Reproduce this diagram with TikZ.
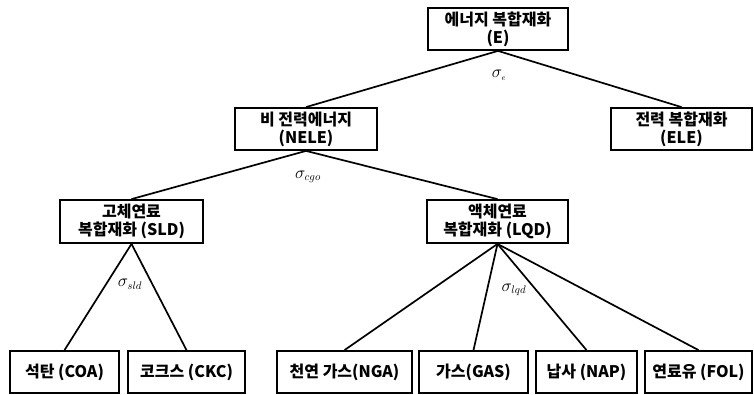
\documentclass[tikz,border=0pt]{standalone}
\usepackage{fontspec}
\setmainfont{Noto Sans CJK KR}
\begin{document}
\begin{tikzpicture}[x=1pt,y=-1pt,
  box/.style={draw=black,line width=1.8pt,fill=white,align=center,inner sep=0pt,
    font=\fontsize{16}{18}\selectfont\bfseries,minimum height=42pt},
  conn/.style={line width=1.7pt,black},
  sig/.style={font=\fontsize{16}{18}\selectfont,inner sep=0pt}]
\useasboundingbox (0,0) rectangle (754,394);
\node[box,minimum width=140pt] (E) at (498,29) {에너지 복합재화\\(E)};
\node[box,minimum width=141pt] (ELE) at (681.5,129) {전력 복합재화\\(ELE)};
\node[box,minimum width=142pt] (NELE) at (306,129) {비 전력에너지\\(NELE)};
\node[box,minimum width=143pt,minimum height=43pt] (SLD) at (131.5,221.5) {고체연료\\복합재화 (SLD)};
\node[box,minimum width=141pt,minimum height=43pt] (LQD) at (497.5,221.5) {액체연료\\복합재화 (LQD)};
\node[box,minimum width=109pt] (COA) at (64.5,372) {석탄 (COA)};
\node[box,minimum width=117pt] (CKC) at (186.5,372) {코크스 (CKC)};
\node[box,minimum width=135pt] (NGA) at (344.5,372) {천연 가스(NGA)};
\node[box,minimum width=109pt] (GAS) at (473.5,372) {가스(GAS)};
\node[box,minimum width=101pt] (NAP) at (586.5,372) {납사 (NAP)};
\node[box,minimum width=107pt] (FOL) at (698.5,372) {연료유 (FOL)};
\draw[conn] (E.south) -- (NELE.north);
\draw[conn] (E.south) -- (ELE.north);
\draw[conn] (NELE.south) -- (SLD.north);
\draw[conn] (NELE.south) -- (LQD.north);
\draw[conn] (SLD.south) -- (COA.north);
\draw[conn] (SLD.south) -- (CKC.north);
\draw[conn] (LQD.south) -- (NGA.north);
\draw[conn] (LQD.south) -- (GAS.north);
\draw[conn] (LQD.south) -- (NAP.north);
\draw[conn] (LQD.south) -- (FOL.north);
\node[sig] (se) at (499,75) {$\sigma_{\scriptscriptstyle e}$};
\node[sig] (scgo) at (308,177) {$\sigma_{cgo}$};
\node[sig] (ssld) at (130,284) {$\sigma_{sld}$};
\node[sig] (slqd) at (514,290) {$\sigma_{lqd}$};
\end{tikzpicture}
\end{document}
